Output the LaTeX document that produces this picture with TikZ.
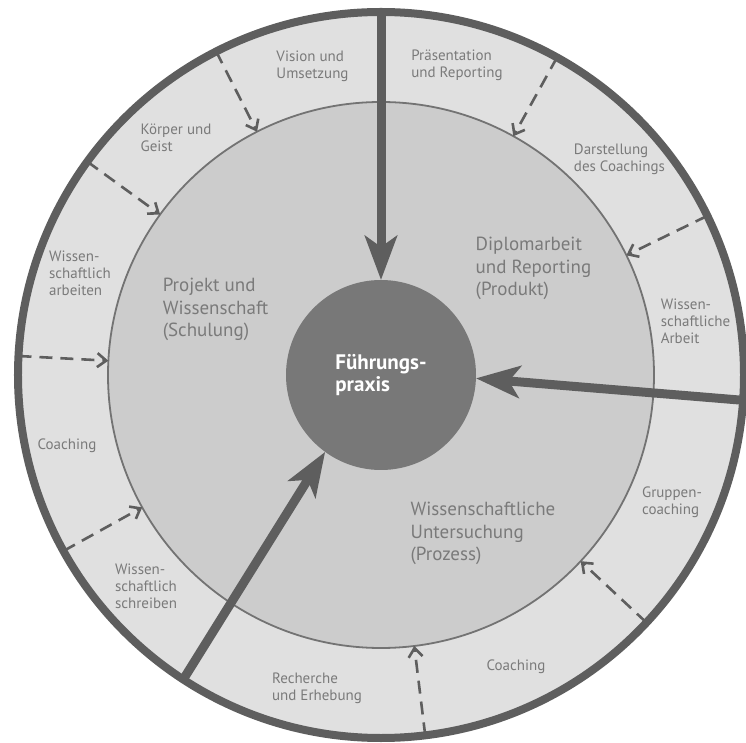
\documentclass[tikz,border=0pt]{standalone}
\usepackage{fontspec}
\setmainfont{PT Sans}
\usepackage{tikz}
\usetikzlibrary{arrows.meta}
\definecolor{ringfill}{gray}{0.88}
\definecolor{midfill}{gray}{0.80}
\definecolor{coregray}{gray}{0.47}
\definecolor{linegray}{gray}{0.37}
\definecolor{midline}{gray}{0.45}
\definecolor{labelgray}{gray}{0.48}
\tikzset{
  disc/.style={circle, inner sep=0pt, outer sep=0pt},
  lbl/.style={align=left, text=labelgray, font=\fontsize{15}{17}\selectfont},
  area/.style={align=left, text=labelgray, font=\fontsize{19}{22.5}\selectfont},
  flow/.style={-{Stealth[length=44pt, width=32pt, inset=11pt]}, line width=9pt, draw=linegray},
  lflow/.style={-{Straight Barb[length=9pt, width=14pt]}, line width=2.6pt, draw=linegray, dash pattern=on 13pt off 8pt},
}

\begin{document}
\begin{tikzpicture}[x=1pt, y=1pt]
  \useasboundingbox[fill=white] (-381,-368) rectangle (365,375);
  \node[disc, draw=linegray, line width=8pt, fill=ringfill, minimum size=726pt] (ring) at (0,0) {};
  \node[disc, draw=midline, line width=1.8pt, fill=midfill, minimum size=546pt] (mid) at (0,0) {};
  \node[disc, fill=coregray, minimum size=190pt, text=white, align=left, font=\fontsize{21}{22}\selectfont\bfseries] (core) at (0,0) {Führungs-\\praxis};
  \draw[lflow] (ring.26) -- (mid.26);
  \draw[lflow] (ring.61) -- (mid.61);
  \draw[lflow] (ring.117.7) -- (mid.117.7);
  \draw[lflow] (ring.144) -- (mid.144);
  \draw[lflow] (ring.177) -- (mid.177);
  \draw[lflow] (ring.209) -- (mid.209);
  \draw[lflow] (ring.277.2) -- (mid.277.2);
  \draw[lflow] (ring.317) -- (mid.317);
  \draw[flow] (ring.90) -- (core.90);
  \draw[flow] (ring.356.7) -- (core.358.2);
  \draw[flow] (ring.237.5) -- (core.234.3);
  \node[lbl] (vision) at (-68.5,309) {Vision und\\Umsetzung};
  \node[lbl] (praes) at (76,310) {Präsentation\\und Reporting};
  \node[lbl] (koerper) at (-205,237.5) {Körper und\\Geist};
  \node[lbl] (darst) at (238.5,216) {Darstellung\\des Coachings};
  \node[lbl] (wissarb) at (-301,102) {Wissen-\\schaftlich\\arbeiten};
  \node[lbl] (wissarbeit) at (314.5,54) {Wissen-\\schaftliche\\Arbeit};
  \node[lbl] (coachl) at (-314,-70.5) {Coaching};
  \node[lbl] (wissschr) at (-235,-211) {Wissen-\\schaftlich\\schreiben};
  \node[lbl] (recherche) at (-64,-313.5) {Recherche\\und Erhebung};
  \node[lbl] (coachb) at (135,-291.5) {Coaching};
  \node[lbl] (gruppe) at (291,-127) {Gruppen-\\coaching};
  \node[area] (projekt) at (-165.5,65.5) {Projekt und\\Wissenschaft\\(Schulung)};
  \node[area] (diplom) at (152.5,106.5) {Diplomarbeit\\und Reporting\\(Produkt)};
  \node[area] (unters) at (102,-158.5) {Wissenschaftliche\\Untersuchung\\(Prozess)};
\end{tikzpicture}
\end{document}
